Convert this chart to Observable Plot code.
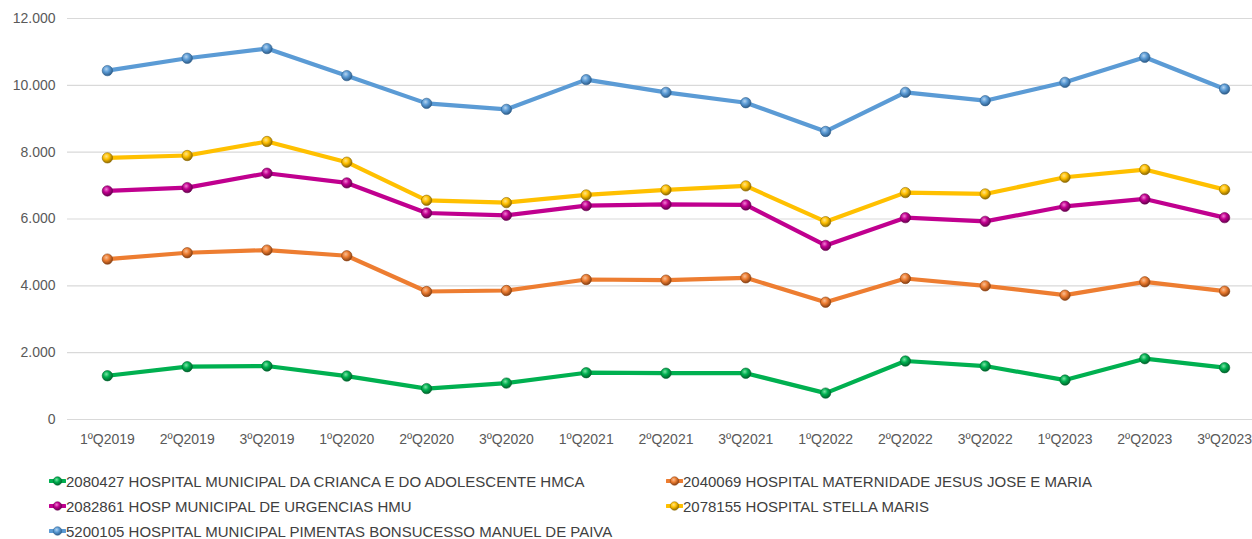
<!DOCTYPE html>
<html>
<head>
<meta charset="utf-8">
<script src="https://cdn.jsdelivr.net/npm/d3@7"></script>
<script src="https://cdn.jsdelivr.net/npm/@observablehq/plot@0.6"></script>
<style>
  html, body { margin: 0; padding: 0; background: #fff; overflow: hidden; width: 1252px; height: 539px; }
  #chart { position: absolute; left: 0; top: 0; width: 1264px; }
  #chart svg { max-width: none !important; }
  #legend { position: absolute; left: 0; top: 469px; width: 1252px; font-family: "Liberation Sans Narrow", "Liberation Sans", sans-serif; font-size: 15px; color: #404040; }
  .item { position: absolute; display: flex; align-items: center; height: 24px; white-space: nowrap; }
  .item svg { margin-right: 0px; }
</style>
</head>
<body>
<div id="chart"></div>
<div id="legend"></div>
<script>
const quarters = ["1ºQ2019","2ºQ2019","3ºQ2019","1ºQ2020","2ºQ2020","3ºQ2020","1ºQ2021","2ºQ2021","3ºQ2021","1ºQ2022","2ºQ2022","3ºQ2022","1ºQ2023","2ºQ2023","3ºQ2023"];

const seriesNames = [
  "2080427 HOSPITAL MUNICIPAL DA CRIANCA E DO ADOLESCENTE HMCA",
  "2040069 HOSPITAL MATERNIDADE JESUS JOSE E MARIA",
  "2082861 HOSP MUNICIPAL DE URGENCIAS HMU",
  "2078155 HOSPITAL STELLA MARIS",
  "5200105 HOSPITAL MUNICIPAL PIMENTAS BONSUCESSO MANUEL DE PAIVA"
];

const hmca = [1310, 1580, 1600, 1300, 925, 1090, 1400, 1385, 1385, 790, 1750, 1600, 1180, 1820, 1550];
const maternidade = [4800, 4990, 5070, 4900, 3830, 3860, 4190, 4170, 4240, 3510, 4220, 4000, 3720, 4120, 3840];
const hmu = [6840, 6940, 7370, 7080, 6180, 6110, 6400, 6440, 6420, 5210, 6040, 5930, 6380, 6600, 6040];
const stellaMaris = [7830, 7900, 8320, 7700, 6560, 6490, 6720, 6870, 6990, 5920, 6790, 6750, 7250, 7480, 6880];
const pimentas = [10440, 10810, 11100, 10290, 9460, 9280, 10170, 9790, 9480, 8620, 9790, 9540, 10090, 10840, 9890];

const yTicks = [0, 2000, 4000, 6000, 8000, 10000, 12000];

const colors = ["#00B050", "#ED7D31", "#C0008F", "#FFC000", "#5B9BD5"];
const darks = ["#00652D", "#8A4113", "#6A0050", "#8F6A00", "#2E5E8C"];
const lights = ["#7CE3A6", "#F8BF96", "#F27FD3", "#FFE48A", "#B6D4EF"];

const allValues = [hmca, maternidade, hmu, stellaMaris, pimentas];
const rows = [];
allValues.forEach((vals, si) => {
  vals.forEach((v, i) => rows.push({series: seriesNames[si], si, quarter: quarters[i], value: v}));
});

const ptBR = d3.formatLocale({decimal: ",", thousands: ".", grouping: [3], currency: ["R$", ""]});
const fmt = v => v === 0 ? "0" : ptBR.format(",.0f")(v);

const marks = [
  Plot.ruleY(yTicks, {stroke: "#D9D9D9", strokeWidth: 1.2})
];
allValues.forEach((vals, si) => {
  const data = rows.filter(r => r.si === si);
  marks.push(Plot.line(data, {x: "quarter", y: "value", stroke: colors[si], strokeWidth: 4.2, strokeLinejoin: "round", strokeLinecap: "round"}));
});
allValues.forEach((vals, si) => {
  const data = rows.filter(r => r.si === si);
  marks.push(Plot.dot(data, {x: "quarter", y: "value", r: 5.2, fill: `url(#grad${si})`, stroke: darks[si], strokeWidth: 0.6}));
});

const chart = Plot.plot({
  width: 1264,
  height: 458,
  marginLeft: 67,
  marginRight: 0,
  marginTop: 18,
  marginBottom: 39,
  style: {fontFamily: "'Liberation Sans Narrow', 'Liberation Sans', sans-serif", fontSize: "14px", color: "#595959", background: "#fff", maxWidth: "none"},
  x: {type: "band", domain: quarters, padding: 0, round: false, label: null, tickSize: 0, tickPadding: 15},
  y: {domain: [0, 12000], ticks: yTicks, tickFormat: fmt, label: null, tickSize: 0, tickPadding: 12},
  marks
});

const defs = d3.select(chart).insert("defs", ":first-child");
colors.forEach((c, si) => {
  const g = defs.append("radialGradient").attr("id", `grad${si}`).attr("cx", "40%").attr("cy", "35%").attr("r", "65%");
  g.append("stop").attr("offset", "0%").attr("stop-color", lights[si]);
  g.append("stop").attr("offset", "45%").attr("stop-color", c);
  g.append("stop").attr("offset", "100%").attr("stop-color", darks[si]);
});
document.getElementById("chart").appendChild(chart);

// Legend
const legend = document.getElementById("legend");
const positions = [
  {left: 49, top: 0}, {left: 666, top: 0},
  {left: 49, top: 25}, {left: 666, top: 25},
  {left: 49, top: 50}
];
seriesNames.forEach((name, si) => {
  const item = document.createElement("div");
  item.className = "item";
  item.style.left = positions[si].left + "px";
  item.style.top = positions[si].top + "px";
  item.innerHTML = `<svg width="17" height="12" viewBox="0 0 17 12">
    <defs><radialGradient id="lg${si}" cx="40%" cy="35%" r="65%">
      <stop offset="0%" stop-color="${lights[si]}"/><stop offset="45%" stop-color="${colors[si]}"/><stop offset="100%" stop-color="${darks[si]}"/>
    </radialGradient></defs>
    <line x1="1" y1="6" x2="16" y2="6" stroke="${colors[si]}" stroke-width="4" stroke-linecap="round"/>
    <circle cx="8.5" cy="6" r="4.3" fill="url(#lg${si})" stroke="${darks[si]}" stroke-width="0.5"/>
  </svg><span>${name}</span>`;
  legend.appendChild(item);
});
</script>
</body>
</html>
